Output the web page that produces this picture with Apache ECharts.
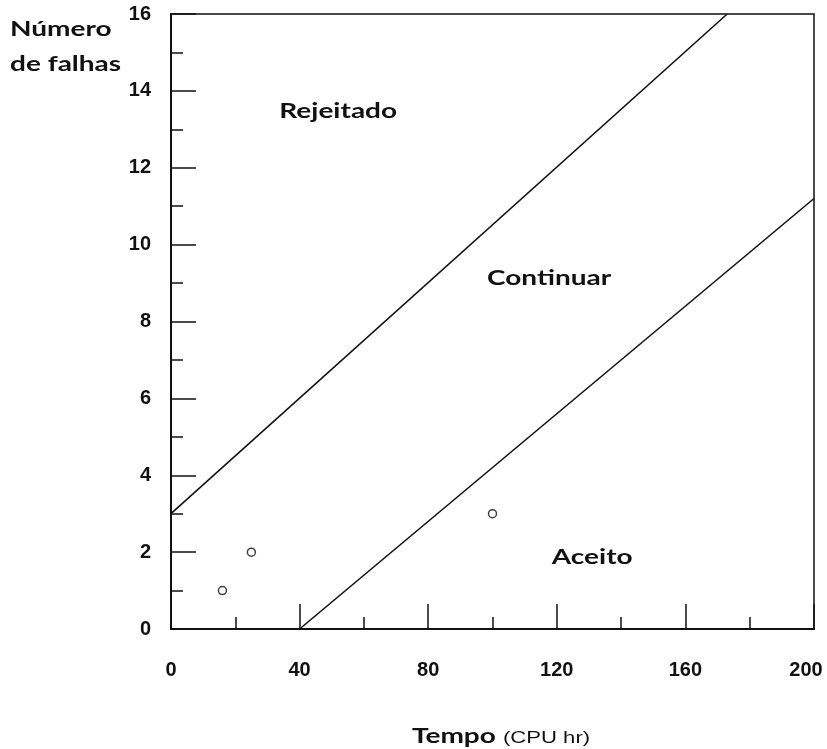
<!DOCTYPE html>
<html>
<head>
<meta charset="utf-8">
<script src="https://cdn.jsdelivr.net/npm/echarts@6/dist/echarts.min.js"></script>
<style>
  html, body { margin: 0; padding: 0; background: #fff; }
  #chart { width: 827px; height: 749px; }
</style>
</head>
<body>
<div id="chart"></div>
<script>
// Sequential test boundaries: failures vs. CPU time
const rejectLine = [[0, 3], [173, 16]];      // upper boundary
const acceptLine = [[40, 0], [200, 11.2]];   // lower boundary
const observedFailures = [[16, 1], [25, 2], [100, 3]];

const xTicks = { min: 0, max: 200, step: 40 };
const yTicks = { min: 0, max: 16, step: 2 };

const regionNames = ['Rejeitado', 'Continuar', 'Aceito'];
const regionAnchors = [[52, 13.45], [117.6, 9.13], [131, 1.87]];

const yTitle = ['Número', 'de falhas'];
const xTitle = ['Tempo', '(CPU hr)'];

const INK = '#111';
const textFont = 'Lato, "Open Sans", sans-serif';

const chart = echarts.init(document.getElementById('chart'), null, { renderer: 'canvas' });

const axisCommon = {
  type: 'value',
  axisLine: { show: true, lineStyle: { color: INK, width: 2 } },
  axisTick: { show: true, inside: true, length: 25, lineStyle: { color: INK, width: 1.5 } },
  minorTick: { show: true, splitNumber: 2, length: 12, lineStyle: { color: INK, width: 1.5 } },
  splitLine: { show: false },
  minorSplitLine: { show: false }
};

const tickFont = {
  color: INK, fontSize: 20, fontWeight: 'bold',
  fontFamily: '"Liberation Sans", Arial, sans-serif'
};

chart.setOption({
  animation: false,
  backgroundColor: '#fff',
  grid: {
    left: 171, right: 13, top: 14, bottom: 120,
    outerBoundsMode: 'none', containLabel: false,
    show: true, borderColor: INK, borderWidth: 1.5, backgroundColor: 'transparent'
  },
  xAxis: Object.assign({}, axisCommon, {
    min: xTicks.min, max: xTicks.max, interval: xTicks.step,
    axisLabel: Object.assign({
      margin: 31,
      // the last label sits a little inside the frame edge
      formatter: function (v) { return v === xTicks.max ? '{last|' + v + '}' : String(v); },
      rich: { last: Object.assign({ padding: [0, 16, 0, 0] }, tickFont) }
    }, tickFont)
  }),
  yAxis: Object.assign({}, axisCommon, {
    min: yTicks.min, max: yTicks.max, interval: yTicks.step,
    axisLabel: Object.assign({ margin: 20, padding: [6, 0, 0, 0] }, tickFont)
  }),
  series: [
    {
      type: 'line', data: rejectLine, symbol: 'none',
      lineStyle: { color: INK, width: 1.6 }, z: 3
    },
    {
      type: 'line', data: acceptLine, symbol: 'none',
      lineStyle: { color: INK, width: 1.6 }, z: 3
    },
    {
      type: 'scatter', data: observedFailures, symbol: 'circle', symbolSize: 8,
      itemStyle: { color: '#fff', borderColor: INK, borderWidth: 1.5 }, z: 4
    }
  ]
});

// Text labels: region names anchored in data space, axis titles around the frame
function textEl(text, x, y, opts) {
  return {
    type: 'text', x: x, y: y, scaleX: opts.scaleX || 1.4, scaleY: 1,
    z: 10,
    style: {
      text: text,
      font: opts.font,
      fill: opts.fill || INK,
      textAlign: opts.align || 'center', align: opts.align || 'center',
      textVerticalAlign: 'middle', verticalAlign: 'middle'
    }
  };
}

const titleFont = 'bold 20px ' + textFont;
const graphics = [];
regionNames.forEach(function (name, i) {
  const p = chart.convertToPixel({ gridIndex: 0 }, regionAnchors[i]);
  graphics.push(textEl(name, p[0], p[1], { font: titleFont }));
});
graphics.push(textEl(yTitle[0], 10, 30, { font: titleFont, align: 'left' }));
graphics.push(textEl(yTitle[1], 10, 65, { font: titleFont, align: 'left' }));
graphics.push(textEl(xTitle[0], 412, 737, { font: titleFont, align: 'left' }));
graphics.push(textEl(xTitle[1], 503, 739, {
  font: '16px "Liberation Sans", Arial, sans-serif', align: 'left', scaleX: 1.38
}));

chart.setOption({ graphic: graphics });
</script>
</body>
</html>
